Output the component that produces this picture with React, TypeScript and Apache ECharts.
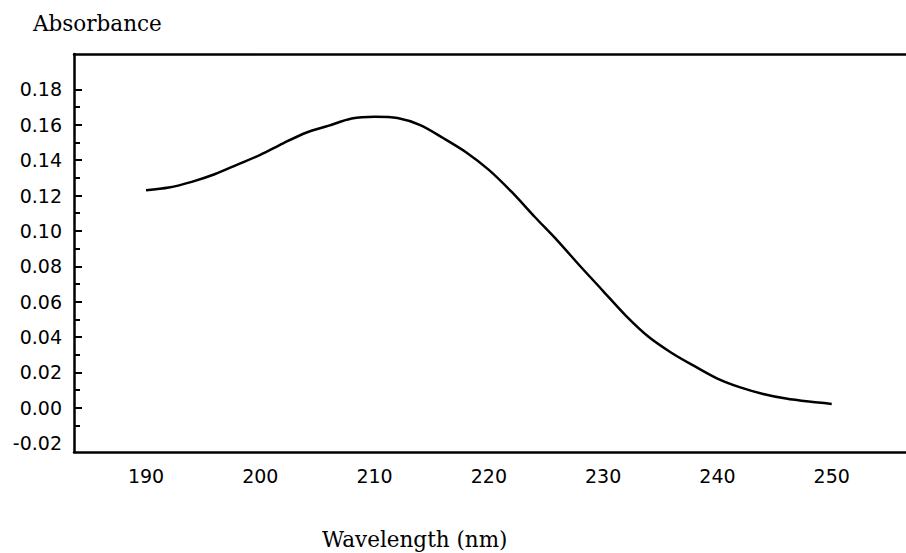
import React, { useEffect, useRef } from "react";
import * as echarts from "echarts";

// Absorption spectrum: wavelength (nm) vs absorbance
const wavelengths = [
  190, 192, 194, 196, 198, 200, 202, 204, 206, 208, 210, 212, 214, 216, 218,
  220, 222, 224, 226, 228, 230, 232, 234, 236, 238, 240, 242, 244, 246, 248, 250,
];
const absorbance = [
  0.123, 0.1245, 0.1277, 0.132, 0.1375, 0.143, 0.1495, 0.1555, 0.1595, 0.1635,
  0.1645, 0.1638, 0.1598, 0.1525, 0.1445, 0.1345, 0.122, 0.108, 0.0945, 0.08,
  0.066, 0.052, 0.04, 0.031, 0.0235, 0.0165, 0.0115, 0.0078, 0.0052, 0.0035,
  0.0022,
];

const xTickLabels = [190, 200, 210, 220, 230, 240, 250];
const yTickLabels = [-0.02, 0, 0.02, 0.04, 0.06, 0.08, 0.1, 0.12, 0.14, 0.16, 0.18];
const yMajorTicks = [0, 0.02, 0.04, 0.06, 0.08, 0.1, 0.12, 0.14, 0.16, 0.18];
const yMinorTicks = [-0.01, 0.01, 0.03, 0.05, 0.07, 0.09, 0.11, 0.13, 0.15, 0.17];

const X_MIN = 183.7;
const X_MAX = 256.5;
const Y_MIN = -0.025;
const Y_MAX = 0.2;

const tickFont = { fontFamily: "DejaVu Sans", fontSize: 19, color: "#000" };
const titleFont = "21.5px 'DejaVu Serif'";

export default function App() {
  const ref = useRef<HTMLDivElement>(null);

  useEffect(() => {
    if (!ref.current) return;
    const chart = echarts.init(ref.current, null, { renderer: "svg" });
    const points = wavelengths.map((w, i) => [w, absorbance[i]]);

    const frameLine = { show: true, onZero: false, lineStyle: { color: "#000", width: 2.5 } };

    chart.setOption({
      animation: false,
      backgroundColor: "#fff",
      grid: { left: 74, right: 0, top: 54, bottom: 101, containLabel: false },
      xAxis: [
        {
          type: "value",
          min: X_MIN,
          max: X_MAX,
          position: "bottom",
          axisLine: frameLine,
          axisTick: { show: false },
          splitLine: { show: false },
          axisLabel: {
            ...tickFont,
            margin: 14,
            customValues: xTickLabels,
            formatter: (v: number) => String(v),
          },
        },
        {
          type: "value",
          min: X_MIN,
          max: X_MAX,
          position: "top",
          axisLine: frameLine,
          axisTick: { show: false },
          axisLabel: { show: false },
          splitLine: { show: false },
        },
      ],
      yAxis: [
        {
          type: "value",
          min: Y_MIN,
          max: Y_MAX,
          position: "left",
          axisLine: frameLine,
          axisTick: {
            show: true,
            inside: true,
            length: 8,
            lineStyle: { color: "#000", width: 2 },
            customValues: yMajorTicks,
          },
          splitLine: { show: false },
          axisLabel: {
            ...tickFont,
            margin: 12,
            customValues: yTickLabels,
            formatter: (v: number) => v.toFixed(2),
          },
        },
        {
          type: "value",
          min: Y_MIN,
          max: Y_MAX,
          position: "left",
          axisLine: { show: false, onZero: false },
          axisTick: {
            show: true,
            inside: true,
            length: 6,
            lineStyle: { color: "#000", width: 2 },
            customValues: yMinorTicks,
          },
          axisLabel: { show: false },
          splitLine: { show: false },
        },
      ],
      series: [
        {
          type: "line",
          data: points,
          xAxisIndex: 0,
          yAxisIndex: 0,
          showSymbol: false,
          smooth: 0.3,
          lineStyle: { color: "#000", width: 2.5 },
        },
      ],
      graphic: [
        {
          type: "text",
          left: 33,
          top: 12,
          style: { text: "Absorbance", font: titleFont, fill: "#000" },
        },
        {
          type: "text",
          left: 322,
          top: 528,
          style: { text: "Wavelength (nm)", font: titleFont, fill: "#000" },
        },
      ],
    });

    return () => chart.dispose();
  }, []);

  return (
    <div
      ref={ref}
      style={{ position: "fixed", left: 0, top: 0, width: 906, height: 553 }}
    />
  );
}
